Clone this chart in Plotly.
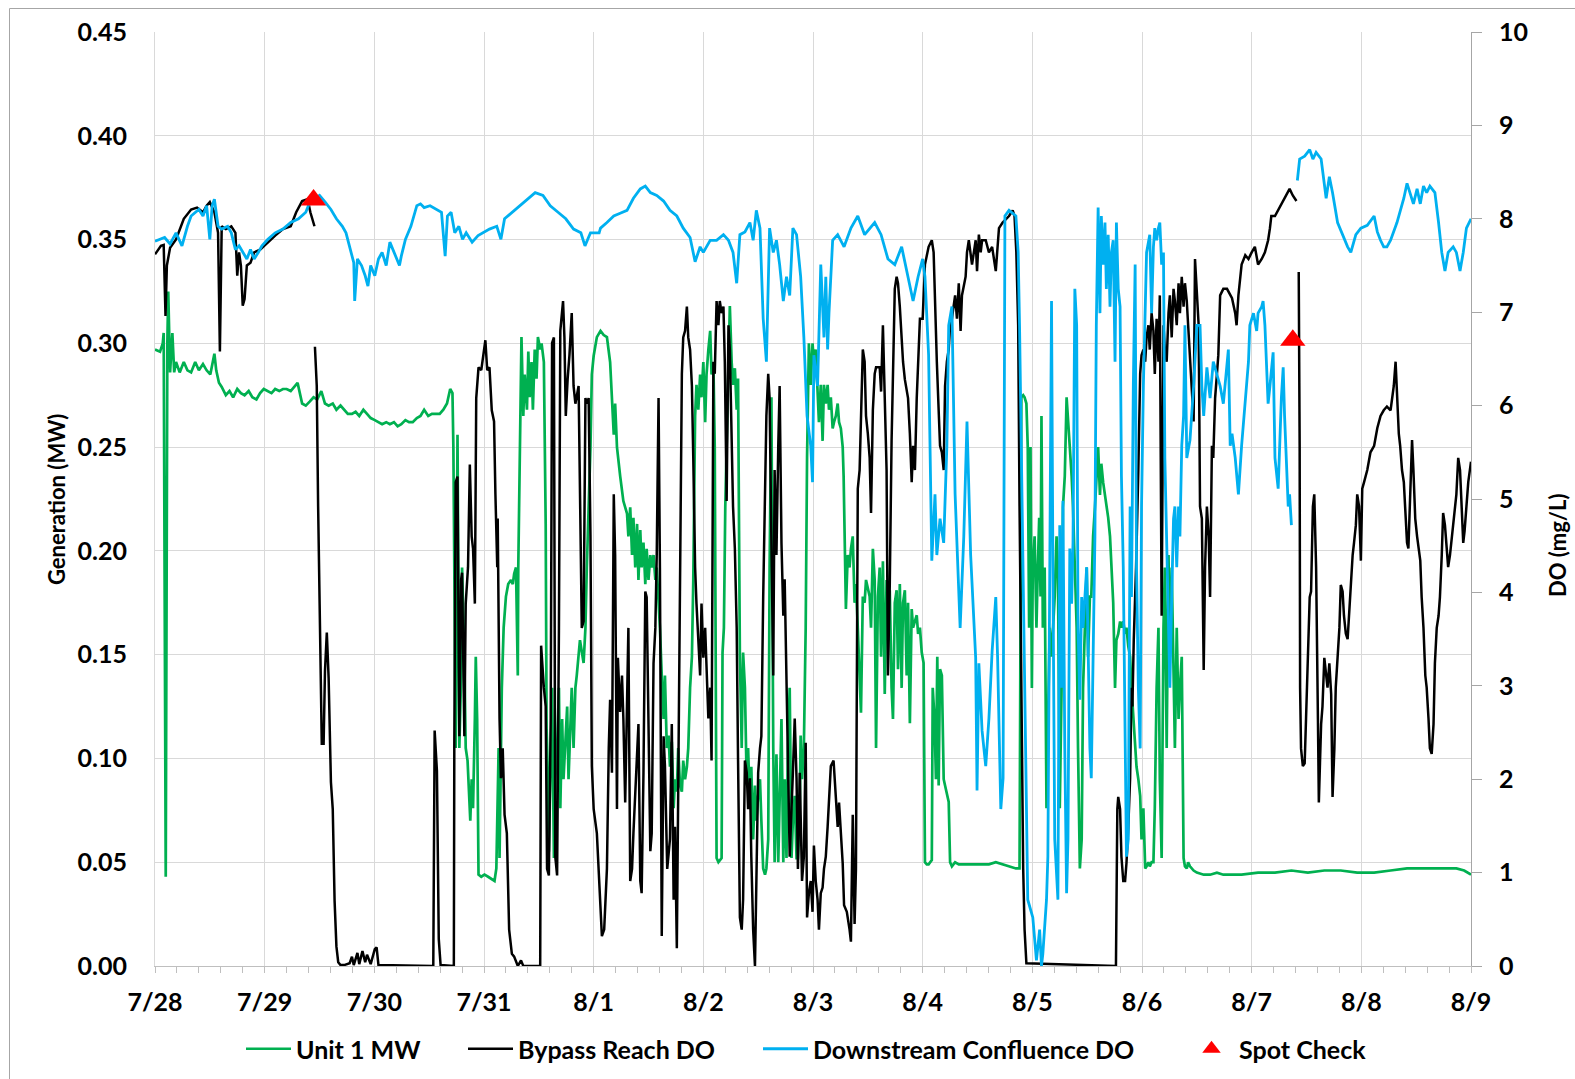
import pandas as pd
import plotly.graph_objects as go

# ---------------------------------------------------------------------------
# Monitoring period: hours elapsed since 7/28 00:00
# ---------------------------------------------------------------------------
START = pd.Timestamp("2019-07-28 00:00")
END = pd.Timestamp("2019-08-09 00:00")

# Unit 1 generation, (hour, MW)
UNIT1_MW = [
    (0.0, 0.297), (1.1, 0.296), (1.7, 0.300), (1.9, 0.305), (2.35, 0.043), (2.7, 0.300), (2.9, 0.325),
    (3.3, 0.286), (3.8, 0.305), (4.2, 0.286), (4.6, 0.291), (5.4, 0.286), (6.3, 0.291), (7.1, 0.287),
    (7.9, 0.286), (8.8, 0.291), (9.6, 0.287), (10.5, 0.290), (11.3, 0.287), (12.1, 0.285), (13.0, 0.295),
    (13.4, 0.287), (14.0, 0.281), (14.6, 0.279), (15.5, 0.275), (16.3, 0.277), (17.1, 0.274), (18.0, 0.278),
    (18.8, 0.276), (19.6, 0.275), (20.5, 0.277), (21.3, 0.274), (22.2, 0.273), (23.0, 0.276), (23.8, 0.278),
    (24.7, 0.277), (25.5, 0.276), (26.3, 0.278), (27.2, 0.277), (28.0, 0.278), (28.8, 0.278), (29.7, 0.277),
    (30.5, 0.279), (31.2, 0.281), (32.2, 0.271), (33.0, 0.270), (33.9, 0.272), (34.7, 0.274), (35.5, 0.273),
    (36.4, 0.277), (37.2, 0.271), (38.0, 0.270), (38.9, 0.271), (39.7, 0.268), (40.6, 0.270), (41.4, 0.268),
    (42.2, 0.266), (43.1, 0.266), (43.9, 0.267), (44.7, 0.265), (45.6, 0.268), (46.4, 0.266), (47.2, 0.264),
    (48.1, 0.263), (48.9, 0.262), (49.7, 0.261), (50.6, 0.262), (51.4, 0.261), (52.3, 0.262), (53.1, 0.260),
    (53.9, 0.261), (54.8, 0.263), (55.6, 0.262), (56.4, 0.262), (57.3, 0.264), (58.1, 0.265), (58.9, 0.268),
    (59.8, 0.265), (60.6, 0.266), (61.5, 0.266), (62.3, 0.266), (63.1, 0.268), (63.9, 0.271), (64.6, 0.278),
    (65.1, 0.276), (65.3, 0.250), (65.5, 0.192), (65.8, 0.105), (66.2, 0.256), (66.6, 0.105), (67.0, 0.140),
    (67.2, 0.192), (67.7, 0.149), (68.0, 0.105), (68.4, 0.099), (68.7, 0.084), (69.0, 0.070), (69.3, 0.090),
    (69.6, 0.076), (70.0, 0.119), (70.2, 0.149), (70.5, 0.119), (70.7, 0.047), (70.8, 0.044), (71.4, 0.043),
    (72.1, 0.044), (72.9, 0.043), (73.6, 0.042), (74.3, 0.041), (74.7, 0.047), (74.9, 0.076), (75.2, 0.105),
    (75.4, 0.052), (75.6, 0.090), (75.9, 0.134), (76.3, 0.163), (76.8, 0.178), (77.3, 0.184), (77.9, 0.186),
    (78.3, 0.184), (78.6, 0.189), (79.0, 0.192), (79.4, 0.140), (79.5, 0.192), (79.9, 0.265), (80.2, 0.303),
    (80.6, 0.265), (80.9, 0.285), (81.4, 0.268), (81.7, 0.296), (82.0, 0.274), (82.4, 0.291), (82.7, 0.268),
    (83.1, 0.297), (83.5, 0.283), (83.8, 0.303), (84.3, 0.297), (84.6, 0.300), (85.1, 0.291), (85.5, 0.213),
    (85.7, 0.114), (86.0, 0.090), (86.2, 0.055), (86.6, 0.105), (86.9, 0.134), (87.3, 0.052), (87.6, 0.090),
    (88.0, 0.105), (88.4, 0.134), (88.7, 0.076), (89.1, 0.119), (89.4, 0.090), (89.8, 0.111), (90.2, 0.125),
    (90.5, 0.090), (90.9, 0.119), (91.2, 0.134), (91.6, 0.105), (92.0, 0.134), (92.3, 0.140), (92.7, 0.149),
    (93.0, 0.157), (93.8, 0.146), (94.2, 0.163), (94.5, 0.192), (94.9, 0.221), (95.3, 0.250), (95.6, 0.285),
    (96.0, 0.294), (96.7, 0.303), (97.5, 0.306), (98.2, 0.304), (98.9, 0.303), (99.6, 0.291), (100.0, 0.274),
    (100.4, 0.256), (100.7, 0.271), (101.1, 0.250), (101.8, 0.236), (102.5, 0.224), (103.3, 0.218),
    (103.6, 0.207), (104.0, 0.221), (104.4, 0.198), (104.7, 0.216), (105.1, 0.192), (105.5, 0.213),
    (105.8, 0.186), (106.2, 0.210), (106.5, 0.192), (106.9, 0.204), (107.3, 0.184), (107.6, 0.201),
    (108.0, 0.186), (108.4, 0.198), (108.7, 0.192), (109.1, 0.198), (109.5, 0.186), (109.8, 0.192),
    (110.2, 0.178), (110.5, 0.163), (110.9, 0.140), (111.3, 0.119), (111.6, 0.140), (112.0, 0.105),
    (112.4, 0.111), (112.7, 0.096), (113.1, 0.108), (113.5, 0.076), (113.8, 0.090), (114.2, 0.084),
    (114.5, 0.105), (114.9, 0.087), (115.3, 0.084), (115.6, 0.099), (116.0, 0.090), (116.4, 0.096),
    (116.7, 0.105), (117.1, 0.134), (117.5, 0.149), (117.8, 0.186), (118.2, 0.265), (118.5, 0.280),
    (118.9, 0.268), (119.3, 0.285), (119.6, 0.274), (120.0, 0.291), (120.4, 0.262), (120.7, 0.285),
    (121.1, 0.297), (121.5, 0.306), (121.8, 0.285), (122.2, 0.291), (122.5, 0.250), (122.9, 0.052),
    (123.3, 0.050), (123.6, 0.051), (124.0, 0.052), (124.2, 0.151), (124.5, 0.163), (124.8, 0.221),
    (125.1, 0.250), (125.5, 0.291), (125.8, 0.318), (126.2, 0.291), (126.5, 0.280), (126.9, 0.288),
    (127.3, 0.268), (127.6, 0.283), (128.0, 0.149), (128.4, 0.105), (128.7, 0.151), (129.1, 0.134),
    (129.5, 0.087), (129.8, 0.105), (130.2, 0.076), (130.5, 0.096), (130.9, 0.061), (131.3, 0.087),
    (131.6, 0.070), (132.0, 0.082), (132.4, 0.090), (132.7, 0.070), (133.1, 0.047), (133.5, 0.044),
    (133.8, 0.047), (134.2, 0.061), (134.5, 0.192), (134.9, 0.274), (135.3, 0.105), (135.6, 0.050),
    (136.0, 0.102), (136.4, 0.050), (136.7, 0.082), (137.1, 0.119), (137.5, 0.050), (137.8, 0.090),
    (138.2, 0.052), (138.5, 0.105), (138.9, 0.134), (139.3, 0.052), (139.6, 0.070), (140.0, 0.082),
    (140.4, 0.052), (140.7, 0.052), (141.1, 0.076), (141.3, 0.111), (141.6, 0.090), (142.0, 0.105),
    (142.4, 0.163), (142.7, 0.245), (143.1, 0.300), (143.5, 0.280), (143.9, 0.300), (144.2, 0.291),
    (144.6, 0.297), (145.0, 0.280), (145.3, 0.262), (145.7, 0.280), (146.1, 0.253), (146.4, 0.280),
    (146.8, 0.271), (147.2, 0.280), (147.5, 0.268), (147.9, 0.274), (148.3, 0.259), (148.6, 0.262),
    (149.0, 0.265), (149.4, 0.271), (149.7, 0.262), (150.1, 0.259), (150.5, 0.250), (150.7, 0.236),
    (151.0, 0.192), (151.2, 0.172), (151.6, 0.198), (152.0, 0.192), (152.3, 0.201), (152.7, 0.207),
    (153.1, 0.175), (153.4, 0.184), (153.8, 0.163), (154.2, 0.140), (154.5, 0.122), (154.9, 0.178),
    (155.3, 0.175), (155.6, 0.186), (156.0, 0.181), (156.4, 0.178), (156.7, 0.163), (157.1, 0.201),
    (157.5, 0.186), (157.8, 0.105), (158.2, 0.178), (158.6, 0.192), (158.9, 0.149), (159.3, 0.195),
    (159.7, 0.131), (160.1, 0.186), (160.4, 0.157), (160.8, 0.181), (161.2, 0.134), (161.5, 0.119),
    (161.9, 0.175), (162.3, 0.181), (162.6, 0.143), (163.0, 0.184), (163.4, 0.134), (163.7, 0.175),
    (164.1, 0.181), (164.5, 0.140), (164.8, 0.175), (165.2, 0.117), (165.6, 0.172), (165.9, 0.163),
    (166.3, 0.166), (166.7, 0.169), (167.0, 0.160), (167.4, 0.163), (167.8, 0.151), (168.2, 0.146),
    (168.5, 0.050), (168.9, 0.049), (169.3, 0.049), (169.6, 0.050), (170.0, 0.051), (170.2, 0.134),
    (170.6, 0.119), (170.9, 0.090), (171.2, 0.149), (171.5, 0.087), (171.8, 0.143), (172.2, 0.140),
    (172.6, 0.090), (172.9, 0.087), (173.3, 0.082), (173.7, 0.079), (174.0, 0.050), (174.4, 0.048),
    (175.1, 0.050), (175.9, 0.049), (176.6, 0.049), (178.1, 0.049), (179.6, 0.049), (181.0, 0.049),
    (182.5, 0.049), (184.0, 0.050), (185.5, 0.049), (186.9, 0.048), (188.4, 0.047), (189.2, 0.047),
    (189.4, 0.163), (189.6, 0.274), (190.0, 0.275), (190.3, 0.274), (190.7, 0.271), (191.0, 0.250),
    (191.3, 0.163), (191.4, 0.192), (191.6, 0.250), (191.9, 0.134), (192.1, 0.192), (192.5, 0.207),
    (192.9, 0.163), (193.2, 0.192), (193.5, 0.216), (193.8, 0.178), (194.0, 0.265), (194.3, 0.163),
    (194.7, 0.192), (195.1, 0.076), (195.4, 0.119), (195.8, 0.163), (196.2, 0.149), (196.5, 0.163),
    (196.9, 0.178), (197.3, 0.207), (197.6, 0.192), (198.0, 0.076), (198.4, 0.134), (198.7, 0.221),
    (199.1, 0.236), (199.5, 0.274), (199.8, 0.265), (200.2, 0.250), (200.6, 0.236), (200.9, 0.221),
    (201.3, 0.192), (201.7, 0.163), (202.0, 0.105), (202.4, 0.047), (202.8, 0.061), (203.1, 0.134),
    (203.5, 0.163), (203.9, 0.192), (204.2, 0.149), (204.6, 0.178), (204.9, 0.178), (205.3, 0.207),
    (205.7, 0.221), (206.0, 0.233), (206.4, 0.250), (206.8, 0.227), (207.1, 0.242), (207.5, 0.233),
    (207.9, 0.227), (208.2, 0.221), (208.6, 0.216), (209.0, 0.207), (209.3, 0.192), (209.7, 0.175),
    (210.1, 0.134), (210.4, 0.157), (210.8, 0.160), (211.2, 0.166), (211.5, 0.163), (211.9, 0.166),
    (212.3, 0.160), (212.6, 0.163), (213.0, 0.154), (213.4, 0.149), (213.7, 0.134), (214.1, 0.119),
    (214.5, 0.105), (214.8, 0.096), (215.2, 0.090), (215.6, 0.082), (215.9, 0.061), (216.3, 0.076),
    (216.7, 0.047), (217.0, 0.048), (217.4, 0.050), (217.7, 0.048), (218.1, 0.050), (218.5, 0.050),
    (218.8, 0.076), (219.2, 0.134), (219.6, 0.163), (219.9, 0.090), (220.3, 0.052), (220.7, 0.163),
    (221.0, 0.192), (221.4, 0.105), (221.8, 0.198), (222.1, 0.149), (222.5, 0.192), (222.9, 0.134),
    (223.2, 0.105), (223.6, 0.163), (224.0, 0.119), (224.3, 0.134), (224.7, 0.149), (225.1, 0.052),
    (225.4, 0.048), (225.8, 0.047), (226.1, 0.050), (226.5, 0.048), (227.3, 0.046), (228.0, 0.045),
    (229.5, 0.044), (230.9, 0.044), (232.4, 0.045), (233.8, 0.044), (235.3, 0.044), (237.8, 0.044),
    (241.4, 0.045), (245.1, 0.045), (248.7, 0.046), (252.3, 0.045), (255.9, 0.046), (259.5, 0.046),
    (263.1, 0.045), (266.8, 0.045), (270.4, 0.046), (274.0, 0.047), (277.6, 0.047), (281.2, 0.047),
    (284.8, 0.047), (286.5, 0.046), (288.0, 0.044),
]

# Bypass reach dissolved oxygen, (hour, mg/L); None marks a logger gap
BYPASS_DO = [
    (0.0, 7.62), (1.3, 7.71), (1.9, 7.72), (2.3, 6.96), (2.6, 7.50), (3.3, 7.69), (4.6, 7.78), (6.3, 8.00),
    (7.9, 8.10), (9.2, 8.12), (10.5, 8.07), (11.3, 8.14), (12.0, 8.18), (13.0, 8.07), (13.8, 7.85),
    (14.2, 6.58), (14.6, 7.92), (15.5, 7.89), (16.7, 7.92), (17.6, 7.85), (18.0, 7.39), (18.4, 7.64),
    (18.8, 7.50), (19.2, 7.07), (19.6, 7.14), (20.1, 7.50), (20.9, 7.53), (21.7, 7.64), (23.0, 7.67),
    (24.7, 7.75), (26.3, 7.82), (28.0, 7.89), (29.7, 7.92), (30.9, 8.07), (32.2, 8.19), (33.4, 8.21),
    (34.0, 8.07), (34.9, 7.92), (34.95, None),
    (35.0, 6.63), (35.4, 6.21), (35.7, 4.92), (36.2, 3.57), (36.5, 2.38), (36.9, 2.38), (37.2, 3.16),
    (37.6, 3.57), (38.0, 3.08), (38.5, 1.97), (38.9, 1.68), (39.3, 0.70), (39.7, 0.21), (40.1, 0.04),
    (40.6, 0.01), (41.4, 0.01), (42.6, 0.03), (43.1, 0.10), (43.5, 0.01), (44.3, 0.14), (44.7, 0.02),
    (45.4, 0.16), (46.0, 0.04), (46.4, 0.12), (47.2, 0.02), (48.1, 0.18), (48.5, 0.20), (48.9, 0.01),
    (60.9, 0.0), (61.2, 2.52), (61.7, 2.09), (62.1, 0.29), (62.5, 0.01), (65.4, 0.0), (65.5, 2.33),
    (65.8, 5.18), (66.2, 5.24), (66.6, 2.46), (67.0, 4.14), (67.2, 4.21), (67.7, 2.46), (68.0, 3.88),
    (68.5, 4.27), (68.9, 5.37), (69.3, 4.60), (69.6, 4.47), (70.0, 3.88), (70.3, 6.08), (70.8, 6.41),
    (71.4, 6.38), (72.3, 6.70), (72.7, 6.38), (73.2, 6.41), (73.7, 5.95), (74.2, 5.83), (74.5, 5.05),
    (74.9, 4.27), (75.0, 4.79), (75.4, 2.65), (75.7, 2.01), (76.1, 2.33), (76.5, 1.62), (77.0, 1.42),
    (77.5, 0.39), (78.1, 0.13), (78.6, 0.10), (79.4, 0.0), (80.1, 0.06), (80.6, 0.0), (84.3, 0.0),
    (84.5, 3.43), (85.1, 2.98), (85.5, 2.78), (85.8, 1.04), (86.2, 0.97), (86.6, 2.65), (86.9, 6.67),
    (87.3, 6.73), (87.6, 1.17), (88.0, 0.97), (88.4, 3.62), (88.7, 6.80), (89.3, 7.12), (89.6, 6.73),
    (89.9, 5.89), (90.3, 6.28), (90.7, 6.54), (91.2, 6.99), (91.6, 6.21), (92.0, 6.02), (92.7, 6.21),
    (93.4, 3.62), (93.8, 3.69), (94.2, 6.08), (94.5, 6.02), (94.9, 6.08), (95.3, 4.60), (95.6, 2.14),
    (96.0, 1.68), (96.7, 1.42), (97.5, 0.52), (97.8, 0.32), (98.3, 0.39), (98.9, 1.04), (99.3, 2.33),
    (99.6, 2.85), (100.0, 2.07), (100.4, 5.05), (100.7, 4.40), (101.1, 1.68), (101.3, 3.30), (101.8, 2.72),
    (102.2, 3.11), (102.5, 2.65), (102.9, 1.75), (103.6, 3.62), (104.0, 0.91), (104.4, 1.04), (104.7, 1.42),
    (105.5, 2.33), (105.8, 2.59), (106.2, 0.91), (106.5, 0.78), (106.9, 2.07), (107.3, 4.01), (107.6, 3.95),
    (108.0, 2.33), (108.4, 1.23), (108.7, 1.42), (109.1, 3.24), (109.5, 3.62), (109.8, 4.40), (110.2, 6.08),
    (110.5, 4.27), (110.9, 0.32), (111.3, 2.46), (111.6, 2.14), (112.1, 1.04), (112.7, 1.36), (113.1, 2.59),
    (113.5, 0.71), (113.8, 1.49), (114.2, 0.19), (114.5, 1.68), (114.9, 4.27), (115.3, 6.34), (115.6, 6.73),
    (116.0, 6.80), (116.4, 7.06), (116.7, 6.73), (117.1, 6.60), (117.5, 6.21), (117.8, 5.44), (118.2, 4.27),
    (118.5, 3.88), (118.9, 3.50), (119.3, 3.11), (119.6, 3.88), (120.0, 3.30), (120.4, 3.62), (120.7, 3.17),
    (121.1, 2.65), (121.5, 2.98), (121.8, 2.20), (122.2, 6.47), (122.5, 6.34), (122.9, 7.12), (123.3, 6.86),
    (123.6, 7.12), (124.0, 6.99), (124.4, 7.06), (124.7, 6.47), (125.1, 4.98), (125.5, 6.86), (125.8, 6.60),
    (126.2, 5.57), (126.5, 4.92), (126.9, 4.47), (127.3, 3.62), (127.6, 2.20), (128.0, 0.52), (128.4, 0.39),
    (128.7, 0.71), (129.1, 2.20), (129.5, 2.07), (129.8, 1.68), (130.2, 2.01), (130.5, 1.17), (130.9, 0.39),
    (131.3, 0.0), (131.6, 1.04), (132.0, 2.07), (132.4, 2.33), (132.7, 2.46), (133.1, 3.95), (133.5, 5.24),
    (133.8, 5.89), (134.2, 6.34), (134.5, 6.08), (134.9, 4.53), (135.3, 3.11), (135.6, 5.31), (136.0, 4.40),
    (136.4, 5.57), (136.7, 6.21), (137.1, 4.53), (137.5, 3.75), (137.8, 4.14), (138.2, 2.98), (138.5, 2.20),
    (138.9, 1.17), (139.6, 2.07), (140.0, 2.65), (140.4, 2.01), (140.7, 1.04), (141.1, 2.07), (141.6, 0.91),
    (142.0, 1.17), (142.4, 2.39), (142.7, 0.52), (143.1, 0.78), (143.5, 0.91), (143.9, 0.58), (144.2, 1.29),
    (144.6, 0.91), (145.0, 0.71), (145.3, 0.39), (145.7, 0.78), (146.1, 0.84), (146.4, 1.04), (146.8, 1.17),
    (147.2, 1.49), (147.9, 2.14), (148.5, 2.20), (149.0, 1.75), (149.4, 1.49), (149.7, 1.75), (150.1, 1.42),
    (150.5, 1.10), (150.8, 0.65), (151.4, 0.58), (152.0, 0.39), (152.3, 0.26), (152.7, 1.62), (153.1, 0.45),
    (153.4, 1.04), (153.8, 5.11), (154.2, 5.31), (154.5, 5.89), (154.9, 6.60), (155.3, 6.47), (155.6, 5.89),
    (156.0, 5.70), (156.4, 5.44), (156.7, 4.85), (157.1, 5.95), (157.5, 6.34), (157.8, 6.41), (158.6, 6.41),
    (158.9, 6.15), (159.3, 6.86), (159.7, 6.02), (160.1, 5.31), (160.4, 3.11), (160.8, 4.08), (161.2, 5.63),
    (161.5, 6.54), (161.9, 7.25), (162.3, 7.38), (162.6, 7.31), (163.0, 7.06), (163.4, 6.67), (163.7, 6.47),
    (164.1, 6.28), (164.8, 6.08), (165.2, 5.70), (165.6, 5.18), (165.9, 5.57), (166.3, 5.31), (166.7, 6.08),
    (167.4, 6.93), (168.0, 6.93), (168.5, 7.51), (169.3, 7.70), (170.0, 7.77), (170.4, 7.64), (170.7, 6.99),
    (171.1, 6.47), (171.5, 5.95), (171.8, 5.57), (172.2, 5.50), (172.6, 5.31), (172.9, 6.21), (173.3, 6.47),
    (173.7, 6.60), (174.0, 6.86), (174.4, 6.93), (174.8, 7.06), (175.1, 7.18), (175.5, 6.93), (175.9, 7.31),
    (176.3, 6.80), (176.6, 7.18), (177.4, 7.38), (177.7, 7.64), (178.1, 7.77), (178.8, 7.51), (179.6, 7.77),
    (179.9, 7.44), (180.3, 7.83), (180.7, 7.64), (181.0, 7.77), (181.8, 7.77), (182.5, 7.64), (183.2, 7.70),
    (184.0, 7.44), (184.7, 7.90), (185.5, 7.96), (186.2, 7.99), (186.9, 8.03), (187.7, 8.09), (188.1, 8.03),
    (188.5, 7.64), (188.9, 6.86), (189.2, 4.92), (189.6, 2.98), (190.0, 1.04), (190.3, 0.39), (190.7, 0.03),
    (210.3, 0.0), (210.4, 1.04), (210.6, 1.68), (210.8, 1.81), (211.2, 1.68), (211.5, 1.17), (211.9, 0.91),
    (212.3, 0.91), (212.6, 1.10), (213.0, 1.49), (213.4, 2.01), (213.7, 2.98), (213.9, 2.78), (214.2, 3.50),
    (214.7, 4.27), (215.2, 5.31), (215.6, 6.34), (215.9, 6.54), (216.3, 6.60), (216.7, 6.47), (217.0, 6.73),
    (217.4, 6.86), (217.7, 6.60), (218.1, 6.99), (218.5, 6.80), (218.8, 6.34), (219.2, 6.93), (219.6, 6.47),
    (219.9, 7.18), (220.3, 3.75), (220.7, 6.86), (221.0, 6.60), (221.4, 6.47), (221.8, 6.99), (222.1, 7.18),
    (222.5, 6.73), (222.9, 7.25), (223.2, 7.12), (223.6, 6.86), (224.0, 7.31), (224.3, 6.99), (224.7, 7.38),
    (225.1, 7.06), (225.4, 7.31), (225.8, 7.12), (226.1, 6.86), (226.5, 6.47), (226.9, 6.08), (227.3, 5.83),
    (227.6, 7.57), (228.0, 7.18), (228.4, 6.86), (228.7, 4.92), (229.1, 4.79), (229.5, 3.17), (229.8, 4.27),
    (230.2, 4.92), (230.6, 4.60), (230.9, 3.95), (231.3, 5.57), (231.6, 5.44), (232.0, 6.08), (232.4, 6.34),
    (232.7, 6.54), (233.1, 7.18), (233.8, 7.25), (234.6, 7.25), (235.7, 7.15), (236.4, 6.99), (236.7, 6.86),
    (237.1, 7.18), (237.8, 7.51), (238.6, 7.61), (239.3, 7.57), (240.0, 7.64), (240.7, 7.70), (241.4, 7.51),
    (242.2, 7.57), (242.9, 7.64), (243.6, 7.77), (244.0, 7.90), (244.3, 8.03), (245.1, 8.03), (245.8, 8.09),
    (246.5, 8.16), (247.2, 8.22), (248.0, 8.28), (248.3, 8.32), (249.0, 8.25), (249.8, 8.19), (250.0, None),
    (250.3, 7.43), (250.5, 5.57), (250.6, 2.98), (250.8, 2.33), (251.2, 2.14), (251.6, 2.17), (251.9, 2.65),
    (252.3, 3.30), (252.7, 3.95), (253.0, 4.01), (253.4, 4.92), (253.7, 5.05), (254.1, 4.27), (254.5, 2.65),
    (254.7, 1.75), (255.2, 2.59), (255.5, 2.78), (255.9, 3.30), (256.3, 3.11), (256.6, 2.98), (257.0, 3.24),
    (257.4, 2.91), (257.7, 1.81), (258.1, 2.33), (258.4, 2.98), (258.8, 3.30), (259.2, 3.62), (259.5, 4.08),
    (259.9, 4.01), (260.2, 3.75), (260.6, 3.56), (261.0, 3.50), (261.3, 3.75), (261.7, 4.14), (262.1, 4.40),
    (262.4, 4.53), (262.8, 4.72), (263.1, 5.05), (263.5, 4.92), (263.9, 4.34), (264.2, 5.11), (264.6, 5.18),
    (265.3, 5.31), (266.0, 5.50), (266.8, 5.57), (267.5, 5.76), (268.2, 5.89), (268.9, 5.95), (269.6, 5.99),
    (270.4, 5.95), (270.7, 6.08), (271.1, 6.21), (271.5, 6.47), (271.8, 6.08), (272.2, 5.70), (272.5, 5.57),
    (272.9, 5.31), (273.3, 5.18), (273.6, 4.92), (274.0, 4.53), (274.3, 4.47), (274.7, 5.05), (275.1, 5.63),
    (275.4, 5.31), (275.8, 4.79), (276.2, 4.60), (276.9, 4.34), (277.2, 3.95), (277.6, 3.62), (278.0, 3.11),
    (278.3, 2.98), (278.7, 2.65), (279.0, 2.33), (279.4, 2.27), (279.8, 2.59), (280.1, 3.24), (280.5, 3.62),
    (280.9, 3.75), (281.2, 3.95), (281.6, 4.40), (281.9, 4.85), (282.3, 4.72), (282.7, 4.47), (283.0, 4.27),
    (283.4, 4.40), (283.7, 4.53), (284.1, 4.72), (284.5, 4.92), (284.8, 5.05), (285.2, 5.44), (285.6, 5.31),
    (285.9, 4.98), (286.3, 4.53), (286.6, 4.66), (287.0, 4.98), (287.4, 5.18), (288.0, 5.40),
]

# Downstream confluence dissolved oxygen, (hour, mg/L); None marks a logger gap
CONFLUENCE_DO = [
    (0.0, 7.76), (2.1, 7.80), (3.3, 7.73), (4.6, 7.85), (5.9, 7.71), (7.1, 7.92), (7.9, 8.03), (8.8, 8.07),
    (9.6, 8.10), (10.5, 8.03), (11.3, 8.14), (12.0, 7.78), (12.5, 8.14), (13.0, 8.21), (13.8, 7.92),
    (14.6, 7.89), (15.9, 7.92), (16.7, 7.85), (17.6, 7.67), (18.4, 7.71), (19.2, 7.64), (20.1, 7.57),
    (20.9, 7.67), (21.7, 7.57), (22.6, 7.64), (23.4, 7.71), (24.7, 7.78), (26.3, 7.85), (28.0, 7.89),
    (29.7, 7.96), (31.4, 8.00), (33.0, 8.07), (33.9, 8.18), (34.7, 8.21), (36.0, 8.25), (37.2, 8.18),
    (38.5, 8.10), (39.7, 8.00), (41.0, 7.92), (41.8, 7.85), (42.6, 7.71), (43.5, 7.53), (43.7, 7.12),
    (44.3, 7.57), (45.2, 7.50), (46.0, 7.39), (46.6, 7.28), (47.2, 7.50), (48.1, 7.39), (48.9, 7.57),
    (49.7, 7.64), (50.6, 7.50), (51.4, 7.75), (52.3, 7.64), (53.5, 7.50), (53.9, 7.60), (54.8, 7.78),
    (56.0, 7.92), (57.3, 8.14), (58.1, 8.16), (58.9, 8.12), (60.2, 8.14), (61.5, 8.10), (62.7, 8.07),
    (63.5, 7.60), (64.0, 8.03), (64.8, 8.07), (65.6, 7.85), (66.5, 7.92), (67.3, 7.78), (68.1, 7.85),
    (69.4, 7.75), (70.7, 7.82), (71.9, 7.85), (73.2, 7.89), (74.8, 7.92), (75.7, 7.78), (76.5, 8.00),
    (78.2, 8.07), (79.8, 8.14), (81.5, 8.21), (83.2, 8.28), (84.9, 8.25), (86.5, 8.14), (88.2, 8.07),
    (89.9, 8.00), (91.6, 7.89), (93.2, 7.85), (94.1, 7.71), (95.3, 7.85), (97.2, 7.85), (97.5, 7.90),
    (98.9, 7.96), (100.4, 8.03), (101.8, 8.06), (103.3, 8.09), (104.7, 8.22), (106.2, 8.32), (107.3, 8.35),
    (108.4, 8.28), (109.8, 8.25), (111.3, 8.19), (112.7, 8.09), (114.2, 8.03), (115.6, 7.90), (117.1, 7.80),
    (118.2, 7.54), (119.3, 7.70), (120.0, 7.64), (121.5, 7.77), (122.9, 7.77), (124.4, 7.83), (125.5, 7.77),
    (126.5, 7.64), (127.3, 7.31), (128.0, 7.83), (129.1, 7.86), (130.2, 7.96), (130.9, 7.77), (131.6, 8.09),
    (132.4, 7.90), (133.1, 6.93), (133.8, 6.47), (134.2, 7.31), (134.5, 7.90), (135.3, 7.64), (136.0, 7.77),
    (136.7, 7.51), (137.5, 7.12), (138.2, 7.38), (138.9, 7.18), (139.6, 7.90), (140.4, 7.83), (141.3, 7.38),
    (142.0, 6.73), (142.7, 5.89), (143.5, 5.57), (143.9, 5.18), (144.2, 6.54), (145.0, 6.21), (145.7, 7.51),
    (146.4, 6.73), (146.8, 7.38), (147.2, 6.60), (147.5, 6.99), (148.3, 7.77), (149.4, 7.83), (150.8, 7.70),
    (152.3, 7.90), (153.8, 8.03), (155.3, 7.83), (157.5, 7.96), (158.9, 7.83), (160.4, 7.57), (161.9, 7.51),
    (163.4, 7.70), (164.8, 7.38), (165.9, 7.12), (167.0, 7.38), (168.0, 7.57), (168.5, 7.38), (169.3, 6.54),
    (170.0, 4.34), (170.7, 5.05), (171.1, 4.40), (171.8, 4.79), (172.6, 4.53), (173.3, 5.57), (173.7, 6.86),
    (174.4, 7.06), (175.1, 5.05), (175.9, 3.95), (176.2, 3.62), (177.0, 4.60), (177.7, 5.83), (178.5, 4.40),
    (179.6, 3.30), (179.9, 1.88), (180.3, 3.24), (181.0, 2.52), (181.8, 2.14), (182.5, 2.65), (183.2, 3.37),
    (184.0, 3.95), (184.4, 3.30), (185.1, 1.68), (185.6, 2.01), (186.0, 8.03), (186.9, 8.09), (188.4, 8.03),
    (188.9, 7.64), (189.2, 6.86), (190.0, 4.27), (190.7, 1.68), (191.0, 0.71), (192.1, 0.52), (192.9, 0.06),
    (193.6, 0.39), (194.0, 0.0), (194.3, 0.13), (194.7, 0.39), (195.1, 0.71), (195.4, 1.17), (195.8, 4.27),
    (196.2, 7.12), (196.5, 4.27), (196.9, 1.36), (197.6, 0.71), (198.0, 4.72), (198.4, 2.98), (198.7, 4.98),
    (199.1, 2.33), (199.5, 0.78), (199.8, 1.36), (200.2, 4.47), (200.6, 3.88), (200.9, 4.53), (201.3, 7.25),
    (201.7, 6.86), (202.0, 3.62), (202.4, 2.85), (202.8, 3.95), (203.1, 3.62), (203.9, 4.27), (204.6, 2.33),
    (204.9, 2.01), (205.3, 3.62), (205.7, 4.60), (206.0, 6.86), (206.4, 8.12), (206.8, 6.99), (207.1, 8.03),
    (207.5, 7.51), (207.9, 7.96), (208.2, 7.25), (208.6, 7.83), (209.0, 7.06), (209.3, 7.64), (209.7, 7.77),
    (210.1, 6.47), (210.4, 7.96), (210.8, 7.25), (211.2, 7.06), (211.5, 5.24), (211.9, 4.27), (212.3, 2.33),
    (212.6, 1.17), (213.0, 1.36), (213.4, 4.92), (213.7, 3.95), (214.1, 6.21), (214.5, 7.51), (214.8, 4.27),
    (215.2, 2.98), (215.6, 2.33), (215.9, 4.92), (216.3, 6.21), (217.0, 7.64), (217.7, 7.83), (218.1, 6.99),
    (218.5, 7.70), (218.8, 7.90), (219.2, 7.77), (219.6, 7.90), (219.9, 7.96), (220.3, 7.51), (220.7, 7.64),
    (221.0, 5.44), (221.4, 4.60), (221.8, 3.62), (222.1, 2.98), (222.5, 3.95), (222.9, 4.79), (223.2, 4.92),
    (223.6, 4.27), (224.0, 4.92), (224.3, 4.60), (224.7, 5.57), (225.1, 5.89), (225.4, 6.86), (225.8, 5.44),
    (226.5, 5.63), (227.3, 6.21), (228.0, 6.86), (228.7, 6.86), (229.1, 6.21), (229.5, 5.89), (230.2, 6.41),
    (230.9, 6.08), (231.6, 6.47), (232.4, 6.34), (233.1, 6.21), (233.8, 6.02), (234.6, 6.47), (234.9, 6.60),
    (235.3, 5.57), (235.7, 5.70), (236.4, 5.44), (237.1, 5.05), (237.8, 5.57), (238.6, 6.08), (239.3, 6.47),
    (239.6, 6.86), (240.4, 6.99), (241.1, 6.80), (241.4, 6.99), (242.2, 7.06), (242.5, 7.12), (242.9, 6.86),
    (243.3, 6.47), (243.6, 6.02), (244.0, 6.21), (244.3, 6.34), (244.7, 6.57), (245.1, 5.44), (245.8, 5.11),
    (246.5, 6.08), (246.9, 6.41), (247.2, 5.89), (247.6, 5.44), (248.0, 4.92), (248.3, 5.05), (248.7, 4.72),
    (249.3, None),
    (250.0, 8.41), (250.5, 8.64), (251.6, 8.67), (252.7, 8.74), (253.4, 8.64), (254.1, 8.71), (255.2, 8.64),
    (255.9, 8.35), (256.3, 8.22), (257.0, 8.45), (257.7, 8.28), (258.8, 7.96), (259.9, 7.83), (261.0, 7.70),
    (261.7, 7.64), (262.8, 7.83), (263.9, 7.90), (265.3, 7.93), (266.8, 8.03), (267.5, 7.86), (268.2, 7.77),
    (268.9, 7.70), (269.6, 7.70), (270.4, 7.77), (271.8, 7.96), (273.3, 8.22), (274.0, 8.38), (274.7, 8.28),
    (275.4, 8.16), (276.2, 8.32), (276.9, 8.16), (277.6, 8.35), (278.3, 8.28), (279.0, 8.35), (280.1, 8.28),
    (280.9, 7.96), (281.6, 7.64), (282.3, 7.44), (283.0, 7.64), (284.1, 7.70), (284.8, 7.64), (285.6, 7.44),
    (286.3, 7.64), (287.0, 7.90), (288.0, 8.00),
]

# Field spot-check DO readings, (hour, mg/L)
SPOT_CHECK_DO = [(34.7, 8.2), (249.0, 6.7)]

SERIES_NAMES = ["Unit 1 MW", "Bypass Reach DO", "Downstream Confluence DO", "Spot Check"]
MW_TICKS = [0.0, 0.05, 0.10, 0.15, 0.20, 0.25, 0.30, 0.35, 0.40, 0.45]
DO_TICKS = [0, 1, 2, 3, 4, 5, 6, 7, 8, 9, 10]

# ---------------------------------------------------------------------------
# Styling
# ---------------------------------------------------------------------------
FONT = "Lato, 'Open Sans', sans-serif"
GREEN = "#00B050"
BLACK = "#000000"
BLUE = "#00B0F0"
RED = "#FF0000"
GRID = "#d9d9d9"
AXIS = "#bfbfbf"

W, H = 1575, 1079
L, R, T, B = 155, 104, 32, 113  # plot-area margins in px
PW, PH = W - L - R, H - T - B


def px_x(px):
    """Horizontal page pixel -> paper coordinate."""
    return (px - L) / PW


def px_y(py):
    """Vertical page pixel (from top) -> paper coordinate."""
    return (H - B - py) / PH


def split(points):
    times = [START + pd.Timedelta(hours=h) for h, _ in points]
    values = [v for _, v in points]
    return times, values


tick_font = dict(family=FONT, size=25, color="#000000", weight=700)
legend_font = dict(family=FONT, size=25, color="#000000", weight=700)

fig = go.Figure()

x, y = split(UNIT1_MW)
fig.add_trace(go.Scatter(x=x, y=y, mode="lines", name=SERIES_NAMES[0], yaxis="y",
                         line=dict(color=GREEN, width=2.7), legend="legend"))

x, y = split(BYPASS_DO)
fig.add_trace(go.Scatter(x=x, y=y, mode="lines", name=SERIES_NAMES[1], yaxis="y2",
                         line=dict(color=BLACK, width=2.5), connectgaps=False, legend="legend2"))

x, y = split(CONFLUENCE_DO)
fig.add_trace(go.Scatter(x=x, y=y, mode="lines", name=SERIES_NAMES[2], yaxis="y2",
                         line=dict(color=BLUE, width=2.8), connectgaps=False, legend="legend3"))

x, y = split(SPOT_CHECK_DO)
fig.add_trace(go.Scatter(x=x, y=y, mode="markers", name=SERIES_NAMES[3], yaxis="y2",
                         marker=dict(symbol="triangle-up", size=22, color=RED), legend="legend4"))

legend_y = px_y(1049)
legend_common = dict(orientation="h", yanchor="middle", y=legend_y, xanchor="left",
                     font=legend_font, itemwidth=45, bgcolor="rgba(0,0,0,0)")

fig.update_layout(
    width=W, height=H,
    margin=dict(l=L, r=R, t=T, b=B, autoexpand=False),
    paper_bgcolor="white", plot_bgcolor="white",
    font=dict(family=FONT, color="#000000"),
    showlegend=True,
    legend=dict(legend_common, x=px_x(241)),
    legend2=dict(legend_common, x=px_x(463)),
    legend3=dict(legend_common, x=px_x(758)),
    legend4=dict(legend_common, x=px_x(1184)),
    xaxis=dict(
        type="date", range=[START, END], tick0=START, dtick=86400000, tickformat="%-m/%-d",
        showgrid=True, gridcolor=GRID, gridwidth=1,
        showline=True, linecolor=AXIS, linewidth=1,
        ticks="outside", ticklen=6, tickcolor=AXIS, tickwidth=1,
        minor=dict(dtick=17280000, ticks="outside", ticklen=6, tickcolor=AXIS, showgrid=False),
        tickfont=tick_font, ticklabelstandoff=8, zeroline=False, automargin=False,
    ),
    yaxis=dict(
        range=[0, 0.45], tickmode="array", tickvals=MW_TICKS, tickformat=".2f",
        showgrid=True, gridcolor=GRID, gridwidth=1, showline=True, linecolor=GRID,
        ticks="", tickfont=tick_font, ticklabelstandoff=22, zeroline=False, automargin=False,
    ),
    yaxis2=dict(
        range=[0, 10], tickmode="array", tickvals=DO_TICKS, overlaying="y", side="right",
        showgrid=False, showline=True, linecolor="#a6a6a6", linewidth=1,
        ticks="outside", ticklen=10, tickcolor="#a6a6a6",
        tickfont=tick_font, ticklabelstandoff=12, zeroline=False, automargin=False,
    ),
    annotations=[
        dict(text="Generation (MW)", xref="paper", yref="paper", x=px_x(56), y=px_y(500),
             textangle=-90, showarrow=False, xanchor="center", yanchor="middle",
             font=dict(family=FONT, size=22, color="#000000", weight=700)),
        dict(text="DO (mg/L)", xref="paper", yref="paper", x=px_x(1558), y=px_y(545),
             textangle=-90, showarrow=False, xanchor="center", yanchor="middle",
             font=dict(family=FONT, size=22, color="#000000", weight=700)),
    ],
    shapes=[
        # thin frame around the whole chart
        dict(type="rect", xref="paper", yref="paper",
             x0=px_x(9.5), x1=px_x(1590), y0=px_y(1095), y1=px_y(8.5),
             line=dict(color="#a6a6a6", width=1), fillcolor="rgba(0,0,0,0)", layer="below"),
    ],
)

fig.write_html("out.html", config={"displayModeBar": False})
